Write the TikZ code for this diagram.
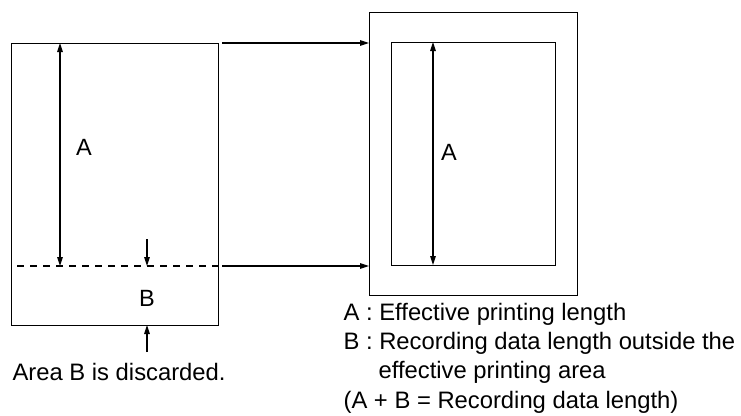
\documentclass[tikz,border=0pt]{standalone}
\usepackage{fontspec}
\setmainfont{Liberation Sans}
\usetikzlibrary{arrows.meta}
\begin{document}
\begin{tikzpicture}[x=1pt,y=-1pt,line width=1.2pt,
  box/.style={draw,inner sep=0pt,anchor=north west},
  arr/.style={-{Triangle[length=9pt,width=5.5pt]}},
  darr/.style={{Triangle[length=9pt,width=5.5pt]}-{Triangle[length=9pt,width=5.5pt]}},
  lbl/.style={inner sep=0pt,font=\fontsize{23.5}{27}\selectfont},
  txt/.style={inner sep=0pt,anchor=west,font=\fontsize{23.8}{27}\selectfont}]
\useasboundingbox (0,0) rectangle (741,415);
% source sheet
\node[box,minimum width=207pt,minimum height=282pt] (src) at (11,43) {};
\coordinate (dl) at (17,266);
\coordinate (dr) at (218,266);
\draw[dash pattern=on 7pt off 6pt] (dl) -- (dr);
\coordinate (aTop) at (60,43);
\coordinate (aBot) at (60,266);
\draw[darr] (aTop) -- (aBot);
\node[lbl] (la) at (84,147) {A};
\coordinate (s1) at (147,239);
\coordinate (s1e) at (147,266);
\draw[arr] (s1) -- (s1e);
\node[lbl] (lb) at (147,298) {B};
\coordinate (s2) at (147,352);
\coordinate (s2e) at (147,325);
\draw[arr] (s2) -- (s2e);
\node[txt] (disc) at (12,372) {Area B is discarded.};
% destination sheet
\node[box,minimum width=208pt,minimum height=283pt] (dst) at (369,12) {};
\node[box,minimum width=164pt,minimum height=223pt] (eff) at (391,42) {};
\coordinate (t1) at (222,43);
\coordinate (t2) at (222,266);
\draw[arr] (t1) -- (dst.west |- t1);
\draw[arr] (t2) -- (dst.west |- t2);
\coordinate (bTop) at (433,42);
\coordinate (bBot) at (433,265);
\draw[darr] (bTop) -- (bBot);
\node[lbl] (ra) at (449,152) {A};
% legend
\node[txt] (l1) at (343,314) {A : Effective printing length};
\node[txt] (l2) at (343,343) {B : Recording data length outside the};
\node[txt] (l3) at (378,372) {effective printing area};
\node[txt] (l4) at (343,402) {(A + B = Recording data length)};
\end{tikzpicture}
\end{document}
